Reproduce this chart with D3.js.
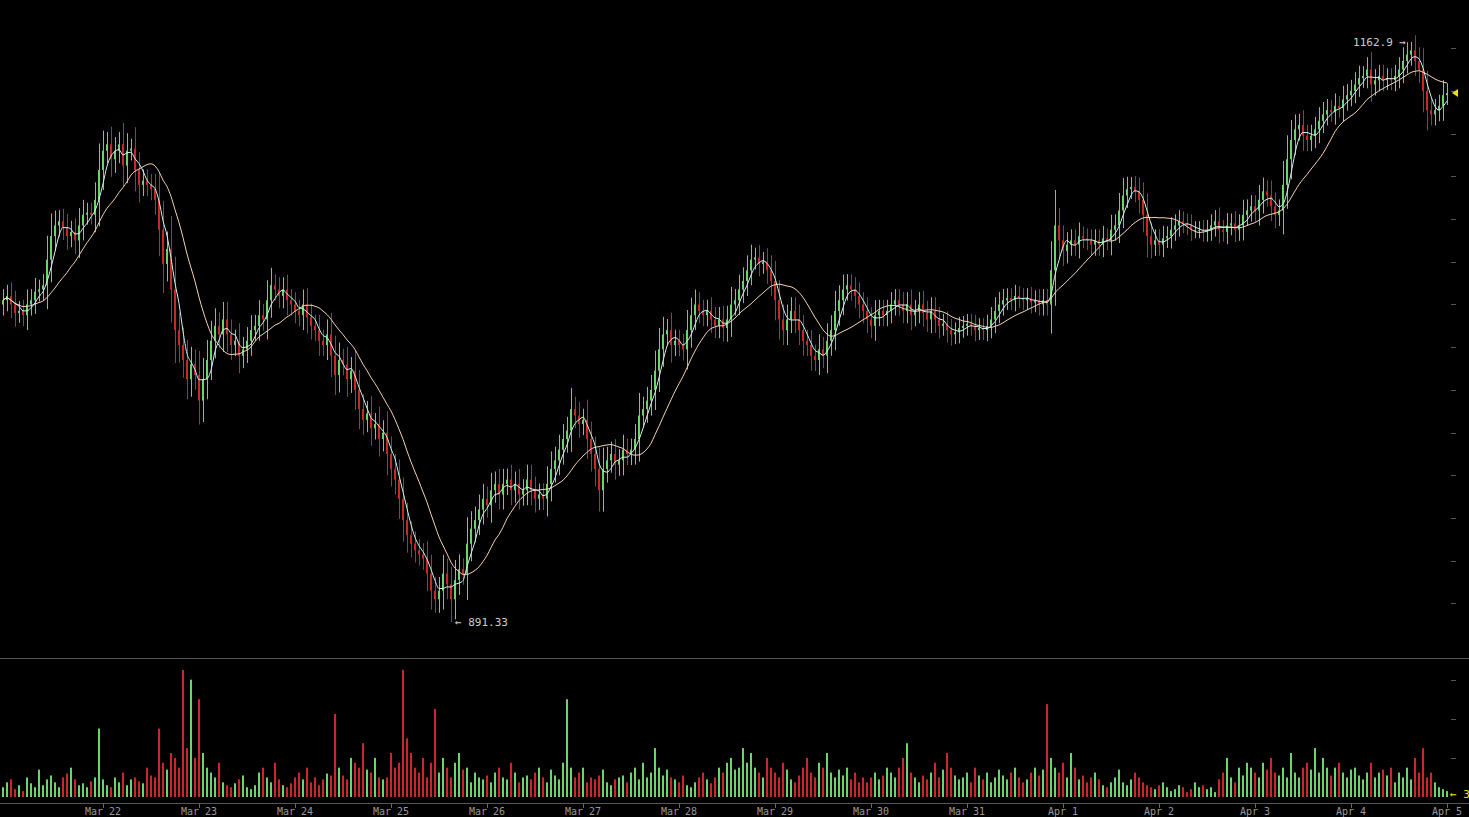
<!DOCTYPE html>
<html lang="en">
<head>
<meta charset="UTF-8">
<title>Chart</title>
<script src="https://cdn.jsdelivr.net/npm/d3@7"></script>
<style>
  body { margin: 0; background: #000; overflow: hidden; }
  text { font-family: "DejaVu Sans Mono", monospace; }
</style>
</head>
<body>
<div id="chart"></div>
<script>
// hourly closes, first candle Mar 20 23:00
var closes = [
 1042,1044,1040,1036,1037,1035,1040,1042,1046,1047,1049,1061,1072,1077,1079,1076,1072,1074,1070,1077,1082,1083,1082,1089,
 1103,1112,1115,1108,1112,1115,1105,1112,1113,1103,1096,1098,1096,1094,1089,1075,1059,1066,1047,1028,1021,1014,1005,1012,
 1007,995,1005,1014,1023,1030,1026,1033,1026,1021,1023,1016,1019,1023,1028,1030,1035,1033,1042,1049,1047,1044,1047,1042,
 1040,1037,1035,1040,1034,1030,1028,1023,1021,1026,1016,1007,1014,1012,1005,1009,1000,991,986,989,982,984,977,980,
 970,963,958,949,939,932,928,925,923,921,914,906,902,906,914,909,902,911,916,914,928,935,939,944,
 949,946,953,956,951,956,958,953,956,951,953,958,953,949,951,949,956,963,967,972,977,981,991,988,
 984,986,977,970,963,953,963,967,970,965,967,972,970,972,977,988,991,995,1000,1009,1019,1026,1028,1021,
 1023,1021,1019,1028,1035,1040,1037,1035,1037,1033,1030,1033,1029,1033,1040,1042,1047,1051,1056,1061,1062,1059,1060,1056,
 1051,1042,1033,1028,1033,1037,1033,1028,1023,1021,1016,1014,1019,1016,1023,1028,1037,1042,1047,1049,1047,1044,1040,1037,
 1033,1030,1035,1037,1035,1037,1040,1042,1040,1037,1040,1035,1037,1040,1036,1033,1037,1033,1030,1031,1028,1026,1027,1029,
 1030,1031,1030,1028,1029,1028,1030,1033,1037,1040,1042,1043,1042,1044,1043,1042,1043,1041,1042,1040,1042,1040,1056,1077,
 1070,1065,1068,1070,1068,1072,1071,1070,1068,1070,1068,1071,1070,1075,1077,1084,1091,1094,1095,1093,1089,1082,1072,1068,
 1070,1068,1071,1072,1075,1077,1079,1078,1077,1075,1075,1075,1074,1075,1077,1079,1075,1074,1077,1078,1075,1077,1082,1084,
 1086,1084,1089,1093,1091,1086,1082,1084,1096,1108,1117,1122,1124,1119,1117,1119,1122,1126,1129,1131,1130,1133,1132,1136,
 1138,1140,1143,1146,1147,1150,1143,1145,1147,1145,1146,1145,1147,1150,1154,1157,1159,1154,1150,1140,1131,1129,1131,1133,
 1138,1139
];
var volumes = [
 10,15,18,8,12,6,20,14,10,28,12,18,22,15,10,20,24,30,18,12,14,10,16,20,
 70,18,12,10,20,15,25,12,18,20,16,14,30,22,20,70,35,28,45,40,30,130,50,120,
 40,100,45,30,25,20,35,15,12,10,14,18,22,10,8,12,25,30,20,15,35,18,12,10,
 14,20,25,18,30,15,20,12,18,24,22,85,30,22,18,40,35,30,55,28,25,40,20,18,
 20,45,30,35,130,60,45,30,25,40,20,35,90,25,40,30,20,35,45,28,30,15,25,20,
 18,22,15,25,30,20,18,35,25,15,20,22,18,25,30,20,15,28,22,18,35,100,30,20,
 25,30,15,20,18,22,28,15,12,18,20,22,15,25,30,18,35,20,25,50,30,22,28,20,
 18,15,22,12,10,15,20,25,18,14,20,30,25,35,40,28,30,50,35,45,30,25,20,40,
 30,25,20,35,28,18,15,22,30,40,25,20,35,30,45,25,20,28,22,30,18,25,15,20,
 15,20,25,18,22,30,25,20,30,40,55,25,20,15,22,18,25,35,20,28,45,30,22,18,
 20,25,15,30,22,18,25,15,20,28,22,18,25,30,20,15,18,25,30,22,28,95,40,30,
 25,35,20,45,30,18,22,15,20,25,18,12,10,15,20,28,15,12,18,25,20,15,12,10,
 8,12,15,10,6,8,12,10,5,8,15,10,12,8,10,5,18,25,40,20,15,30,22,35,
 30,25,20,35,28,40,25,22,30,20,45,25,20,30,35,28,50,25,40,30,22,30,35,25,
 20,28,30,22,18,25,35,20,25,28,22,30,15,25,20,30,18,40,25,50,20,25,15,10,
 8,6
];
var startTime = new Date(2014, 2, 20, 23);
var extremeHigh = [352, 1162.9];
var extremeLow = [112, 891.33];
var dayLabels = ["Mar 22","Mar 23","Mar 24","Mar 25","Mar 26","Mar 27","Mar 28","Mar 29","Mar 30","Mar 31","Apr 1","Apr 2","Apr 3","Apr 4","Apr 5"];

var W = 1469, H = 817;
var svg = d3.select("#chart").append("svg").attr("width", W).attr("height", H);
svg.append("rect").attr("width", W).attr("height", H).attr("fill", "#000");

var hour = 3600 * 1000;
var data = closes.map(function (c, i) {
    var o = i == 0 ? c - 2 : closes[i - 1];
    var w = Math.abs(c - o) * 0.6 + 4;
    var hi = Math.max(o, c) + w, lo = Math.min(o, c) - w;
    if (i == extremeHigh[0]) hi = extremeHigh[1];
    if (i == extremeLow[0]) lo = extremeLow[1];
    return { t: new Date(+startTime + i * hour), o: o, c: c, h: hi, l: lo, v: volumes[i], i: i };
});

var x = d3.scaleTime()
    .domain([new Date(2014, 2, 22), new Date(2014, 3, 5)])
    .range([103, 1447]);
var y = d3.scaleLinear().domain([891.33, 1162.9]).range([622, 42]);
var yv = d3.scaleLinear().domain([0, 135]).range([797, 665]);

var green = "#6cd46c", red = "#c8282c";

// separator and bottom axis
svg.append("line").attr("x1", 0).attr("x2", W).attr("y1", 658.5).attr("y2", 658.5).attr("stroke", "#555");
svg.append("line").attr("x1", 0).attr("x2", W).attr("y1", 803.5).attr("y2", 803.5).attr("stroke", "#555");

var days = d3.timeDay.range(new Date(2014, 2, 22), new Date(2014, 3, 6));
var xa = svg.append("g");
xa.selectAll("line").data(days).enter().append("line")
    .attr("x1", function (d) { return Math.round(x(d)) + 0.5; })
    .attr("x2", function (d) { return Math.round(x(d)) + 0.5; })
    .attr("y1", 803).attr("y2", 808).attr("stroke", "#666");
xa.selectAll("text").data(days).enter().append("text")
    .attr("x", function (d) { return x(d); }).attr("y", 815)
    .attr("text-anchor", "middle").attr("font-size", 10).attr("fill", "#999")
    .text(function (d, i) { return dayLabels[i]; });

// right tick dashes
var pt = d3.range(900, 1161, 20);
svg.append("g").selectAll("line").data(pt).enter().append("line")
    .attr("x1", 1451).attr("x2", 1456)
    .attr("y1", function (d) { return Math.round(y(d)) + 0.5; })
    .attr("y2", function (d) { return Math.round(y(d)) + 0.5; })
    .attr("stroke", "#555");
svg.append("g").selectAll("line").data([40, 80, 120]).enter().append("line")
    .attr("x1", 1451).attr("x2", 1456)
    .attr("y1", function (d) { return Math.round(yv(d)) + 0.5; })
    .attr("y2", function (d) { return Math.round(yv(d)) + 0.5; })
    .attr("stroke", "#555");

// volume
svg.append("g").selectAll("rect").data(data).enter().append("rect")
    .attr("x", function (d) { return Math.round(x(d.t)) - 1; })
    .attr("width", 2)
    .attr("y", function (d) { return yv(d.v); })
    .attr("height", function (d) { return yv(0) - yv(d.v); })
    .attr("fill", function (d) { return d.c >= d.o ? green : red; });

// candles
var cg = svg.append("g");
cg.selectAll("line").data(data).enter().append("line")
    .attr("x1", function (d) { return Math.round(x(d.t)) + 0.5; })
    .attr("x2", function (d) { return Math.round(x(d.t)) + 0.5; })
    .attr("y1", function (d) { return y(d.h); })
    .attr("y2", function (d) { return y(d.l); })
    .attr("stroke", function (d) { return d.c >= d.o ? green : red; });
cg.selectAll("rect").data(data).enter().append("rect")
    .attr("x", function (d) { return Math.round(x(d.t)) - 1; })
    .attr("width", 2)
    .attr("y", function (d) { return y(Math.max(d.o, d.c)); })
    .attr("height", function (d) { return Math.max(1, Math.abs(y(d.o) - y(d.c))); })
    .attr("fill", function (d) { return d.c >= d.o ? green : red; });

// moving averages
function ma(n) {
    return data.map(function (d, i) {
        var s = data.slice(Math.max(0, i - n + 1), i + 1);
        return { t: d.t, v: d3.mean(s, function (e) { return e.c; }) };
    });
}
var line = d3.line().x(function (d) { return x(d.t); }).y(function (d) { return y(d.v); }).curve(d3.curveMonotoneX);
svg.append("path").attr("d", line(ma(14))).attr("fill", "none").attr("stroke", "#f4d2b4").attr("stroke-width", 1);
svg.append("path").attr("d", line(ma(4))).attr("fill", "none").attr("stroke", "#d2f2f2").attr("stroke-width", 1);

// extreme labels
var dh = data[extremeHigh[0]], dl = data[extremeLow[0]];
svg.append("text").attr("x", x(dh.t) - 5).attr("y", y(dh.h) + 4)
    .attr("text-anchor", "end").attr("font-size", 11).attr("fill", "#ccc")
    .text(extremeHigh[1] + " \u2192");
svg.append("text").attr("x", x(dl.t) + 4).attr("y", y(dl.l) + 4)
    .attr("font-size", 11).attr("fill", "#ccc")
    .text("\u2190 " + extremeLow[1]);

// last price marker
var last = data[data.length - 1];
svg.append("path")
    .attr("d", "M1452," + y(last.c) + "l6,-4v8z").attr("fill", "#e8e000");
svg.append("text").attr("x", 1450).attr("y", yv(0) + 1).attr("font-size", 11).attr("fill", "#e8e000").text("\u2190 3");
</script>
</body>
</html>
